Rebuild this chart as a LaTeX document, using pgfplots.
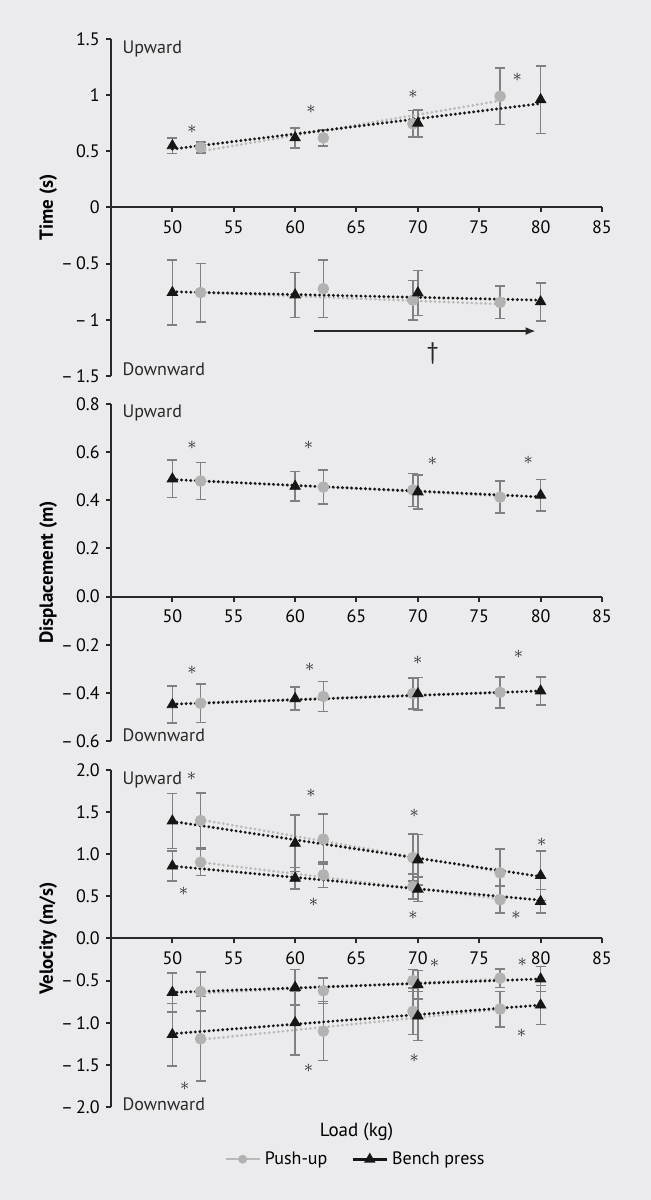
\documentclass[border=0pt]{standalone}
\usepackage{fontspec}
\setmainfont{PT Sans}
\usepackage{pgfplots}
\pgfplotsset{compat=1.18}
\usetikzlibrary{arrows.meta}

\definecolor{bg}{RGB}{235,235,237}
\definecolor{axiscol}{RGB}{40,40,40}
\definecolor{errcol}{RGB}{128,128,128}
\definecolor{pucol}{RGB}{178,178,178}
\definecolor{putrend}{RGB}{185,185,185}
\definecolor{bpcol}{RGB}{22,22,22}

\tikzset{updown/.style={anchor=west, inner sep=0pt, text=axiscol}}

\pgfplotsset{
  /pgf/number format/assume math mode=true,
  panel/.style={
    scale only axis, width=245.5pt, height=168.5pt,
    xmin=45, xmax=85, xtick={50,55,...,85},
    axis x line=middle, axis y line=left,
    hide obscured x ticks=false, hide obscured y ticks=false,
    axis line style={-, line width=1pt, draw=axiscol},
    tick style={line width=1pt, draw=axiscol},
    tick align=outside, major tick length=2.5pt,
    xticklabel style={yshift=-1pt},
    clip=false,
    every axis y label/.style={at={(axis description cs:-0.128,0.5)}, rotate=90, anchor=center, font=\fontsize{9.5}{11}\selectfont\bfseries},
  },
  pu/.style={only marks, mark=*, mark size=2.7pt, mark options={fill=pucol, draw=pucol},
    error bars/y dir=both, error bars/y explicit,
    error bars/error bar style={errcol, line width=0.8pt},
    error bars/error mark options={rotate=90, errcol, mark size=2.5pt, line width=0.8pt}},
  bp/.style={only marks, mark=triangle*, mark size=3pt, mark options={fill=bpcol, draw=bpcol},
    error bars/y dir=both, error bars/y explicit,
    error bars/error bar style={errcol, line width=0.8pt},
    error bars/error mark options={rotate=90, errcol, mark size=2.5pt, line width=0.8pt}},
  trendpu/.style={no marks, draw=putrend, line width=1.5pt, dash pattern=on 0pt off 2.3pt, line cap=round},
  trendbp/.style={no marks, draw=bpcol, line width=1.6pt, dash pattern=on 0pt off 2.3pt, line cap=round},
}

\newcommand{\st}[2]{\node[text=axiscol] at (axis cs:#1,#2) {$\ast$};}

\begin{document}
\fontsize{9}{11}\selectfont
\begin{tikzpicture}
\path[use as bounding box, fill=bg] (0,0) rectangle (325.5pt,600pt);

% ---- Time ----
\begin{axis}[panel, at={(55.5pt,580.5pt)}, anchor=north west,
  ymin=-1.5, ymax=1.5, ytick={-1.5,-1,-0.5,0,0.5,1,1.5},
  yticklabels={–\,1.5,–\,1,–\,0.5,0,0.5,1,1.5},
  ylabel={Time (s)}]
\addplot[pu] coordinates {(52.3,0.535) +- (0,0.05) (62.3,0.62) +- (0,0.07) (69.6,0.745) +- (0,0.12) (76.7,0.99) +- (0,0.25)};
\addplot[pu] coordinates {(52.3,-0.757) +- (0,0.26) (62.3,-0.723) +- (0,0.257) (69.6,-0.825) +- (0,0.175) (76.7,-0.845) +- (0,0.145)};
\addplot[trendpu] coordinates {(52.3,0.50) (76.7,0.95)};
\addplot[trendpu] coordinates {(52.3,-0.757) (76.7,-0.86)};
\addplot[bp] coordinates {(50,0.55) +- (0,0.07) (60,0.62) +- (0,0.09) (70,0.75) +- (0,0.12) (80,0.96) +- (0,0.30)};
\addplot[bp] coordinates {(50,-0.757) +- (0,0.288) (60,-0.778) +- (0,0.20) (70,-0.76) +- (0,0.20) (80,-0.84) +- (0,0.17)};
\addplot[trendbp] coordinates {(50,0.52) (80,0.925)};
\addplot[trendbp] coordinates {(50,-0.75) (80,-0.825)};
\st{51.6}{0.70}\st{61.3}{0.87}\st{69.6}{1.01}\st{78.1}{1.16}
\draw[-{Latex[length=5pt,width=4pt]}, line width=1pt, axiscol] (axis cs:61.5,-1.10) -- (axis cs:79.6,-1.10);
\node[text=axiscol, font=\fontsize{12}{14}\selectfont] at (axis cs:71.2,-1.30) {†};
\node[updown] at (axis description cs:0.023,0.969) {Upward};
\node[updown] at (axis description cs:0.023,0.02) {Downward};
\end{axis}

% ---- Displacement ----
\begin{axis}[panel, at={(55.5pt,398pt)}, anchor=north west,
  ymin=-0.6, ymax=0.8, ytick={-0.6,-0.4,-0.2,0,0.2,0.4,0.6,0.8},
  yticklabels={–\,0.6,–\,0.4,–\,0.2,0.0,0.2,0.4,0.6,0.8},
  ylabel={Displacement (m)}]
\addplot[pu] coordinates {(52.3,0.48) +- (0,0.077) (62.3,0.455) +- (0,0.07) (69.6,0.443) +- (0,0.068) (76.7,0.413) +- (0,0.066)};
\addplot[pu] coordinates {(52.3,-0.443) +- (0,0.08) (62.3,-0.415) +- (0,0.062) (69.6,-0.403) +- (0,0.064) (76.7,-0.398) +- (0,0.065)};
\addplot[trendpu] coordinates {(52.3,0.48) (76.7,0.418)};
\addplot[trendpu] coordinates {(52.3,-0.44) (76.7,-0.397)};
\addplot[bp] coordinates {(50,0.489) +- (0,0.078) (60,0.458) +- (0,0.061) (70,0.435) +- (0,0.071) (80,0.421) +- (0,0.065)};
\addplot[bp] coordinates {(50,-0.449) +- (0,0.077) (60,-0.424) +- (0,0.048) (70,-0.404) +- (0,0.068) (80,-0.392) +- (0,0.059)};
\addplot[trendbp] coordinates {(50,0.486) (80,0.414)};
\addplot[trendbp] coordinates {(50,-0.447) (80,-0.392)};
\st{51.6}{0.629}\st{61.1}{0.629}\st{71.2}{0.56}\st{79.0}{0.567}
\st{51.6}{-0.308}\st{61.2}{-0.294}\st{70.0}{-0.264}\st{78.2}{-0.239}
\node[updown] at (axis description cs:0.023,0.973) {Upward};
\node[updown] at (axis description cs:0.023,0.017) {Downward};
\end{axis}

% ---- Velocity ----
\begin{axis}[panel, at={(55.5pt,215pt)}, anchor=north west,
  ymin=-2, ymax=2, ytick={-2,-1.5,-1,-0.5,0,0.5,1,1.5,2},
  yticklabels={–\,2.0,–\,1.5,–\,1.0,–\,0.5,0.0,0.5,1.0,1.5,2.0},
  ylabel={Velocity (m/s)},
  xlabel={Load (kg)},
  every axis x label/.style={at={(axis description cs:0.5,0)}, anchor=center, yshift=-12.5pt, font=\fontsize{9.5}{11}\selectfont},
  legend style={at={(axis description cs:0.5,-0.155)}, anchor=center, draw=none, fill=none,
    legend columns=2, /tikz/every even column/.append style={column sep=10pt},
    legend cell align=left}]
\addlegendimage{draw=putrend, line width=1.2pt, mark=*, mark size=1.6pt, mark options={fill=pucol, draw=pucol}}
\addlegendentry{Push-up}
\addlegendimage{draw=bpcol, line width=1.3pt, mark=triangle*, mark size=2pt, mark options={fill=bpcol, draw=bpcol}}
\addlegendentry{Bench press}
% upward peak and mean
\addplot[pu] coordinates {(52.3,1.40) +- (0,0.325) (62.3,1.18) +- (0,0.295) (69.6,0.96) +- (0,0.28) (76.7,0.78) +- (0,0.285)};
\addplot[pu] coordinates {(52.3,0.905) +- (0,0.155) (62.3,0.755) +- (0,0.15) (69.6,0.617) +- (0,0.15) (76.7,0.46) +- (0,0.16)};
% downward
\addplot[pu] coordinates {(52.3,-0.63) +- (0,0.23) (62.3,-0.62) +- (0,0.15) (69.6,-0.50) +- (0,0.13) (76.7,-0.47) +- (0,0.11)};
\addplot[pu] coordinates {(52.3,-1.19) +- (0,0.50) (62.3,-1.10) +- (0,0.35) (69.6,-0.865) +- (0,0.275) (76.7,-0.837) +- (0,0.21)};
\addplot[trendpu] coordinates {(52.3,1.41) (76.7,0.79)};
\addplot[trendpu] coordinates {(52.3,0.905) (76.7,0.47)};
\addplot[trendpu] coordinates {(52.3,-0.65) (76.7,-0.48)};
\addplot[trendpu] coordinates {(52.3,-1.20) (76.7,-0.84)};
\addplot[bp] coordinates {(50,1.395) +- (0,0.325) (60,1.13) +- (0,0.335) (70,0.933) +- (0,0.30) (80,0.747) +- (0,0.295)};
\addplot[bp] coordinates {(50,0.86) +- (0,0.18) (60,0.715) +- (0,0.13) (70,0.585) +- (0,0.145) (80,0.44) +- (0,0.14)};
\addplot[bp] coordinates {(50,-0.64) +- (0,0.23) (60,-0.58) +- (0,0.21) (70,-0.55) +- (0,0.17) (80,-0.48) +- (0,0.15)};
\addplot[bp] coordinates {(50,-1.14) +- (0,0.37) (60,-1.00) +- (0,0.38) (70,-0.92) +- (0,0.29) (80,-0.79) +- (0,0.23)};
\addplot[trendbp] coordinates {(50,1.39) (80,0.735)};
\addplot[trendbp] coordinates {(50,0.86) (80,0.455)};
\addplot[trendbp] coordinates {(50,-0.64) (80,-0.48)};
\addplot[trendbp] coordinates {(50,-1.13) (80,-0.79)};
\st{51.56}{1.92}\st{61.3}{1.72}\st{69.7}{1.49}\st{80.1}{1.14}
\st{50.9}{0.565}\st{61.5}{0.43}\st{69.6}{0.28}\st{78.0}{0.28}
\st{71.35}{-0.29}\st{78.5}{-0.285}\st{51.0}{-1.75}\st{61.1}{-1.545}\st{69.7}{-1.42}\st{78.45}{-1.13}
\node[updown] at (axis description cs:0.023,0.969) {Upward};
\node[updown] at (axis description cs:0.023,0.008) {Downward};
\end{axis}
\end{tikzpicture}
\end{document}
